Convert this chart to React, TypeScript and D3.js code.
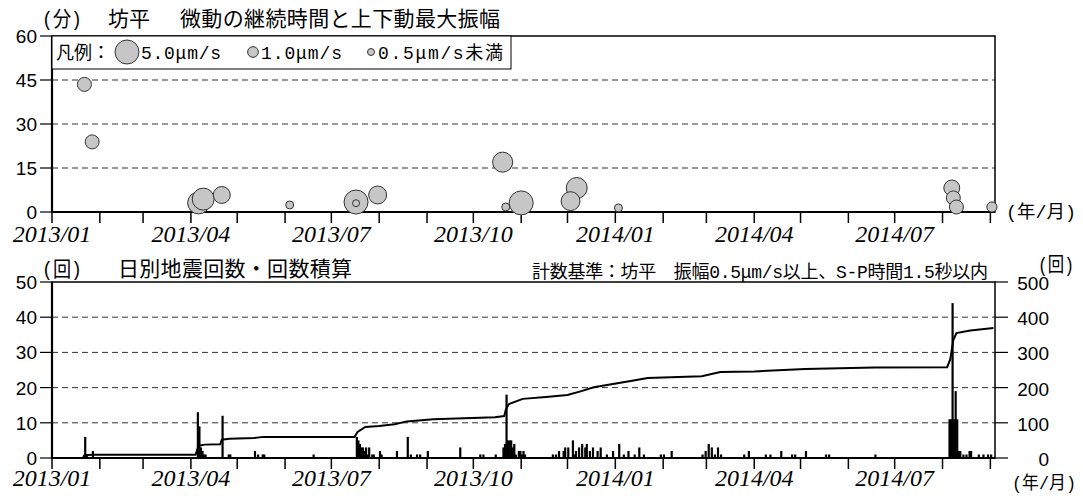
import React from "react";
import * as d3 from "d3";

const W = 1083;
const H = 501;

// 上段：微動の継続時間(分)と上下動最大振幅(μm/s)
const tremorDates = [
  "2013-01-22", "2013-01-27", "2013-04-06", "2013-04-09", "2013-04-21",
  "2013-06-04", "2013-07-17", "2013-07-17", "2013-07-31", "2013-10-20",
  "2013-10-22", "2013-11-01", "2013-12-03", "2013-12-07", "2014-01-03",
  "2014-08-07", "2014-08-08", "2014-08-10", "2014-09-02",
];
const tremorMinutes = [
  43.5, 23.9, 3.1, 4.4, 5.8,
  2.4, 3.4, 3.0, 5.8, 17.0,
  1.7, 3.1, 3.7, 8.2, 1.4,
  8.2, 4.8, 1.7, 1.7,
];
const tremorAmps = [
  1.7, 1.7, 4.2, 4.2, 2.5,
  0.55, 5.0, 0.4, 2.8, 3.5,
  0.55, 5.0, 3.1, 3.8, 0.55,
  2.2, 1.7, 1.7, 0.9,
];

// 下段：日別地震回数
const quakeDates = [
  "2013-01-22", "2013-01-23", "2013-01-27",
  "2013-04-05", "2013-04-06", "2013-04-07", "2013-04-08", "2013-04-09", "2013-04-10",
  "2013-04-21", "2013-04-25", "2013-04-26",
  "2013-05-12", "2013-05-14", "2013-05-17", "2013-05-18", "2013-06-19",
  "2013-07-17", "2013-07-18", "2013-07-19", "2013-07-20", "2013-07-21", "2013-07-22",
  "2013-07-23", "2013-07-24", "2013-07-25", "2013-07-27", "2013-07-28",
  "2013-08-01", "2013-08-02", "2013-08-12", "2013-08-19", "2013-08-21", "2013-08-25",
  "2013-08-27", "2013-09-01", "2013-09-22", "2013-10-05", "2013-10-07", "2013-10-15",
  "2013-10-20", "2013-10-21", "2013-10-22", "2013-10-23", "2013-10-24", "2013-10-25",
  "2013-10-26", "2013-10-27", "2013-10-28", "2013-10-30", "2013-10-31", "2013-11-01",
  "2013-11-02", "2013-11-03", "2013-11-21", "2013-11-23", "2013-11-25", "2013-11-28",
  "2013-11-29", "2013-12-01", "2013-12-04", "2013-12-05", "2013-12-06", "2013-12-08",
  "2013-12-10", "2013-12-12", "2013-12-13", "2013-12-15", "2013-12-17", "2013-12-20",
  "2013-12-22", "2013-12-26", "2013-12-30",
  "2014-01-03", "2014-01-06", "2014-01-09", "2014-01-13", "2014-01-16", "2014-01-19",
  "2014-01-30", "2014-02-01", "2014-02-06", "2014-02-26", "2014-02-28", "2014-03-02",
  "2014-03-04", "2014-03-06", "2014-03-08", "2014-03-10", "2014-03-25", "2014-03-28",
  "2014-04-08", "2014-04-11", "2014-04-18", "2014-04-25", "2014-04-27", "2014-05-04",
  "2014-05-17", "2014-05-19", "2014-06-18",
  "2014-08-05", "2014-08-06", "2014-08-07", "2014-08-08", "2014-08-09", "2014-08-10",
  "2014-08-11", "2014-08-12", "2014-08-14", "2014-08-16", "2014-08-18", "2014-08-19",
  "2014-08-24", "2014-08-27", "2014-08-30", "2014-09-01",
];
const quakeCounts = [
  6, 1, 2,
  13, 9, 3, 2, 1, 1,
  12, 1, 1,
  2, 1, 1, 1, 1,
  6, 5, 4, 3, 3, 2,
  3, 1, 3, 1, 1,
  2, 1, 2, 6, 1, 1,
  1, 2, 3, 1, 1, 1,
  3, 4, 18, 5, 5, 5,
  3, 4, 1, 2, 2, 1,
  2, 1, 1, 1, 2, 2,
  3, 3, 5, 1, 2, 3,
  4, 3, 4, 2, 3, 2,
  3, 1, 2,
  4, 1, 2, 1, 3, 1,
  1, 1, 2, 1, 2, 4,
  3, 1, 3, 1, 1, 2,
  1, 1, 2, 1, 1, 2,
  1, 1, 1,
  11, 11, 44, 11, 19, 11,
  2, 2, 1, 1, 2, 2,
  1, 1, 1, 1,
];

// 回数積算（右軸）
const cumDates = [
  "2013-01-01", "2013-01-21", "2013-01-22", "2013-01-27", "2013-04-04", "2013-04-06",
  "2013-04-10", "2013-04-20", "2013-04-21", "2013-04-26", "2013-05-12", "2013-05-18",
  "2013-07-16", "2013-07-18", "2013-07-23", "2013-08-01", "2013-08-11", "2013-08-19",
  "2013-09-05", "2013-10-15", "2013-10-21", "2013-10-22", "2013-10-24", "2013-11-02",
  "2013-11-17", "2013-12-01", "2013-12-10", "2013-12-18", "2014-01-10", "2014-01-22",
  "2014-02-26", "2014-03-10", "2014-04-01", "2014-05-04", "2014-06-18", "2014-08-04",
  "2014-08-06", "2014-08-08", "2014-08-10", "2014-08-19", "2014-09-03",
];
const cumValues = [
  0, 0, 8, 9, 9, 35,
  38, 39, 52, 55, 57, 60,
  60, 74, 88, 91, 96, 104,
  110, 116, 119, 137, 153, 168,
  173, 179, 190, 201, 218, 227,
  232, 244, 246, 253, 257, 258,
  280, 335, 355, 362, 369,
];

const labelMonths = [
  "2013-01-01", "2013-04-01", "2013-07-01", "2013-10-01",
  "2014-01-01", "2014-04-01", "2014-07-01",
];
const labelTexts = [
  "2013/01", "2013/04", "2013/07", "2013/10", "2014/01", "2014/04", "2014/07",
];
const minuteTicks = [0, 15, 30, 45, 60];
const countTicks = [0, 10, 20, 30, 40, 50];
const cumTicks = [0, 100, 200, 300, 400, 500];

const JP = "'Liberation Mono', 'Noto Sans CJK JP', sans-serif";
const NUM = "'Liberation Sans', Arial, sans-serif";
const SERIF = "'Liberation Serif', 'Times New Roman', serif";

const parse = d3.timeParse("%Y-%m-%d");

const App = () => {
  const x = d3
    .scaleTime()
    .domain([new Date(2013, 0, 1), new Date(2014, 8, 4)])
    .range([52, 995]);
  const yMin = d3.scaleLinear().domain([0, 60]).range([212, 36]);
  const yCnt = d3.scaleLinear().domain([0, 50]).range([458, 282]);
  const yCum = d3.scaleLinear().domain([0, 500]).range([458, 282]);
  const r = d3.scaleSqrt().domain([0, 5]).range([0, 12]);
  const radius = (a: number) => (a < 0.5 ? 3.5 : r(a));

  const months = d3.timeMonth.range(new Date(2013, 0, 1), new Date(2014, 8, 5));
  const [x0, x1] = x.range();

  const tremors = tremorDates
    .map((d, i) => ({ date: parse(d)!, min: tremorMinutes[i], amp: tremorAmps[i] }))
    .sort((a, b) => radius(b.amp) - radius(a.amp));
  const quakes = quakeDates.map((d, i) => ({ date: parse(d)!, n: quakeCounts[i] }));
  const cum = cumDates.map((d, i) => ({ date: parse(d)!, v: cumValues[i] }));

  const cumLine = d3
    .line<{ date: Date; v: number }>()
    .x((d) => x(d.date))
    .y((d) => yCum(d.v));

  const dayW = x(new Date(2013, 0, 2)) - x(new Date(2013, 0, 1));

  const xAxis = (y0: number, labelY: number) => (
    <g>
      {months.map((m, i) => (
        <line key={i} x1={x(m)} x2={x(m)} y1={y0} y2={y0 + 11} stroke="#000" strokeWidth={1.5} />
      ))}
      {labelMonths.map((m, i) => (
        <text
          key={m}
          x={x(parse(m)!)}
          y={labelY}
          textAnchor="middle"
          fontFamily={SERIF}
          fontStyle="italic"
          fontSize={24}
        >
          {labelTexts[i]}
        </text>
      ))}
    </g>
  );

  return (
    <svg
      width={W}
      height={H}
      style={{ position: "absolute", left: 0, top: 0, background: "#fff" }}
    >
      <rect width={W} height={H} fill="#fff" />

      {/* ===== 上段 ===== */}
      <text x={42} y={26} fontFamily={JP} fontSize={21} textLength={40} lengthAdjust="spacingAndGlyphs">(分)</text>
      <text x={108} y={26} fontFamily={JP} fontSize={21}>坊平</text>
      <text x={180} y={26} fontFamily={JP} fontSize={21} textLength={320} lengthAdjust="spacing">
        微動の継続時間と上下動最大振幅
      </text>

      {minuteTicks.slice(1, -1).map((t) => (
        <line key={t} x1={x0} x2={x1} y1={yMin(t)} y2={yMin(t)} stroke="#333" strokeDasharray="6,4" />
      ))}
      {minuteTicks.map((t) => (
        <g key={t}>
          <line x1={40} x2={x0} y1={yMin(t)} y2={yMin(t)} stroke="#000" strokeWidth={1.2} />
          <text x={37} y={yMin(t) + 7} textAnchor="end" fontFamily={NUM} fontSize={19}>
            {t}
          </text>
        </g>
      ))}
      <rect x={x0} y={yMin(60)} width={x1 - x0} height={yMin(0) - yMin(60)} fill="none" stroke="#000" strokeWidth={1.5} />
      <line x1={x0} x2={x0} y1={yMin(60)} y2={yMin(0)} stroke="#000" strokeWidth={2.2} />
      <line x1={x0} x2={x1} y1={yMin(0)} y2={yMin(0)} stroke="#000" strokeWidth={2} />
      {xAxis(yMin(0), 242)}

      {tremors.map((d, i) => (
        <circle
          key={i}
          cx={x(d.date)}
          cy={yMin(d.min)}
          r={radius(d.amp)}
          fill="#c6c6c6"
          stroke="#333"
          strokeWidth={1}
        />
      ))}

      {/* 凡例 */}
      <rect x={x0} y={yMin(60)} width={459} height={33} fill="#fff" stroke="#000" strokeWidth={1} />
      <text x={56} y={59} fontFamily={JP} fontSize={18}>凡例：</text>
      <circle cx={127} cy={52} r={radius(5)} fill="#c6c6c6" stroke="#333" />
      <text x={141} y={59} fontFamily={JP} fontSize={18} textLength={80} lengthAdjust="spacing">5.0μm/s</text>
      <circle cx={253} cy={52} r={radius(1)} fill="#c6c6c6" stroke="#333" />
      <text x={261} y={59} fontFamily={JP} fontSize={18} textLength={81} lengthAdjust="spacing">1.0μm/s</text>
      <circle cx={371} cy={52} r={radius(0.4)} fill="#c6c6c6" stroke="#333" />
      <text x={378} y={59} fontFamily={JP} fontSize={18} textLength={125} lengthAdjust="spacing">0.5μm/s未満</text>

      <text x={1006} y={218} fontFamily={JP} fontSize={18} textLength={70} lengthAdjust="spacingAndGlyphs">(年/月)</text>

      {/* ===== 下段 ===== */}
      <text x={42} y={276} fontFamily={JP} fontSize={21} textLength={40} lengthAdjust="spacingAndGlyphs">(回)</text>
      <text x={118} y={276} fontFamily={JP} fontSize={21} textLength={234} lengthAdjust="spacing">
        日別地震回数・回数積算
      </text>
      <text x={532} y={278} fontFamily={JP} fontSize={18} textLength={456} lengthAdjust="spacing">
        計数基準：坊平　振幅0.5μm/s以上、S-P時間1.5秒以内
      </text>
      <text x={1038} y={272} fontFamily={JP} fontSize={20} textLength={36} lengthAdjust="spacingAndGlyphs">(回)</text>

      {countTicks.slice(1, -1).map((t) => (
        <line key={t} x1={x0} x2={x1} y1={yCnt(t)} y2={yCnt(t)} stroke="#333" strokeDasharray="6,4" />
      ))}
      {countTicks.map((t) => (
        <g key={t}>
          <line x1={40} x2={x0} y1={yCnt(t)} y2={yCnt(t)} stroke="#000" strokeWidth={1.2} />
          <text x={37} y={yCnt(t) + 7} textAnchor="end" fontFamily={NUM} fontSize={19}>
            {t}
          </text>
        </g>
      ))}
      {cumTicks.map((t) => (
        <g key={t}>
          <line x1={x1} x2={x1 + 13} y1={yCum(t)} y2={yCum(t)} stroke="#000" strokeWidth={1.2} />
          <text x={1049} y={yCum(t) + 8} textAnchor="end" fontFamily={NUM} fontSize={19}>
            {t}
          </text>
        </g>
      ))}

      {quakes.map((d, i) => (
        <rect
          key={i}
          x={x(d.date) - 0.3}
          y={yCnt(d.n)}
          width={Math.max(2.2, dayW)}
          height={yCnt(0) - yCnt(d.n)}
          fill="#000"
        />
      ))}
      <path d={cumLine(cum) ?? ""} fill="none" stroke="#000" strokeWidth={2} />

      <rect x={x0} y={yCnt(50)} width={x1 - x0} height={yCnt(0) - yCnt(50)} fill="none" stroke="#000" strokeWidth={1.5} />
      <line x1={x0} x2={x0} y1={yCnt(50)} y2={yCnt(0)} stroke="#000" strokeWidth={2.2} />
      <line x1={x0} x2={x1} y1={yCnt(0)} y2={yCnt(0)} stroke="#000" strokeWidth={2} />
      {xAxis(yCnt(0), 486)}

      <text x={1012} y={489} fontFamily={JP} fontSize={18} textLength={64} lengthAdjust="spacingAndGlyphs">(年/月)</text>
    </svg>
  );
};

export default App;
